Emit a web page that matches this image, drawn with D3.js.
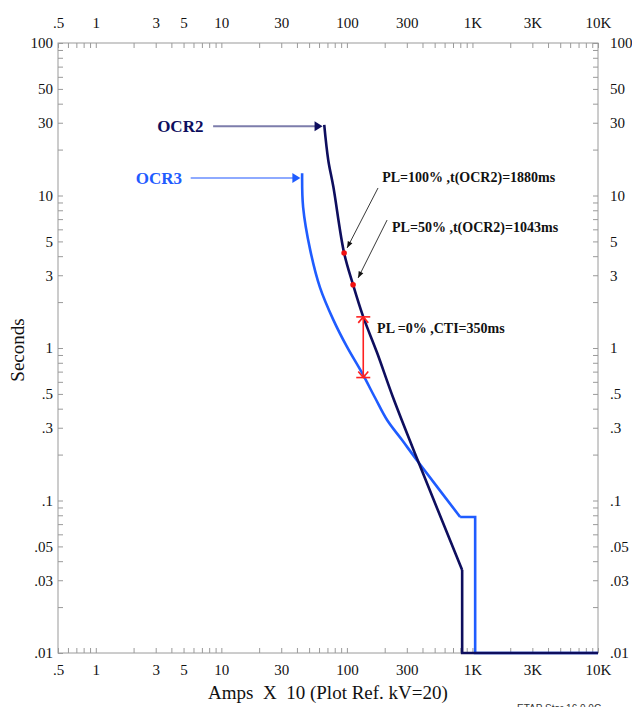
<!DOCTYPE html>
<html>
<head>
<meta charset="utf-8">
<script src="https://cdn.jsdelivr.net/npm/d3@7"></script>
<style>
  body { margin: 0; background: #fff; }
  svg { display: block; }
  text { font-family: "Liberation Serif", "Times New Roman", serif; }
</style>
</head>
<body>
<div class="chart"></div>
<script>
// Tick labels
const xTickVals = [0.5, 1, 3, 5, 10, 30, 100, 300, 1000, 3000, 10000];
const xTickLabels = [".5", "1", "3", "5", "10", "30", "100", "300", "1K", "3K", "10K"];
const yTickVals = [100, 50, 30, 10, 5, 3, 1, 0.5, 0.3, 0.1, 0.05, 0.03, 0.01];
const yTickLabels = ["100", "50", "30", "10", "5", "3", "1", ".5", ".3", ".1", ".05", ".03", ".01"];

// OCR2 curve (amps x10, seconds)
const ocr2Amps = [66, 71, 78, 95, 112, 135, 174, 234, 370, 828];
const ocr2Secs = [29, 17.1, 11.4, 4.2, 2.6, 1.6, 0.93, 0.47, 0.18, 0.035];
const ocr2TailAmps = [828, 828, 10000];
const ocr2TailSecs = [0.035, 0.01, 0.01];

// OCR3 curve
const ocr3Amps = [44, 44.8, 51, 61, 78, 100, 132, 168, 209, 275, 370, 798];
const ocr3Secs = [14, 8.4, 4.4, 2.5, 1.53, 1.02, 0.686, 0.47, 0.337, 0.249, 0.179, 0.078];
const ocr3TailAmps = [798, 1051, 1051, 10000];
const ocr3TailSecs = [0.078, 0.078, 0.01, 0.01];

// Operating points (PL=100%, PL=50%)
const dotAmps = [95, 112];
const dotSecs = [4.2, 2.6];

// CTI interval
const ctiAmps = 135;
const ctiSecs = [1.6, 0.64];

const W = 632, H = 707;
const Margin = {top: 43, right: 34, bottom: 54, left: 58};

const svg = d3.select(".chart").append("svg")
  .attr("width", W).attr("height", H);

const x = d3.scaleLog().domain([0.5, 10000]).range([Margin.left, W - Margin.right]);
const y = d3.scaleLog().domain([0.01, 100]).range([H - Margin.bottom, Margin.top]);

const frameColor = "#9a9a9a";
const navy = "#0e0e5e";
const blue = "#1f5cff";

// frame
svg.append("rect")
  .attr("x", x.range()[0]).attr("y", y.range()[1])
  .attr("width", x.range()[1] - x.range()[0])
  .attr("height", y.range()[0] - y.range()[1])
  .attr("fill", "none").attr("stroke", frameColor).attr("stroke-width", 1);

// minor ticks (inside the frame)
const xMinor = x.ticks().filter(d => d >= 0.5 && d <= 10000);
const yMinor = y.ticks();

function styleTicks(g) {
  g.select(".domain").remove();
  g.selectAll("line").attr("stroke", frameColor);
  g.selectAll("text").remove();
}
svg.append("g").attr("transform", `translate(0,${y.range()[1]})`)
  .call(d3.axisBottom(x).tickValues(xMinor).tickSize(5)).call(styleTicks);
svg.append("g").attr("transform", `translate(0,${y.range()[0]})`)
  .call(d3.axisTop(x).tickValues(xMinor).tickSize(5)).call(styleTicks);
svg.append("g").attr("transform", `translate(${x.range()[0]},0)`)
  .call(d3.axisRight(y).tickValues(yMinor).tickSize(5)).call(styleTicks);
svg.append("g").attr("transform", `translate(${x.range()[1]},0)`)
  .call(d3.axisLeft(y).tickValues(yMinor).tickSize(5)).call(styleTicks);

// tick labels
function styleLabels(g) {
  g.select(".domain").remove();
  g.selectAll("line").remove();
  g.selectAll("text").attr("font-size", 15).attr("fill", "#111")
    .style("font-family", '"Liberation Serif", serif');
}
const xFmt = d => xTickLabels[xTickVals.indexOf(d)];
const yFmt = d => yTickLabels[yTickVals.indexOf(d)];
svg.append("g").attr("transform", `translate(0,${y.range()[1] - 15})`)
  .call(d3.axisTop(x).tickValues(xTickVals).tickFormat(xFmt).tickSize(0).tickPadding(0))
  .call(styleLabels);
svg.append("g").attr("transform", `translate(0,${y.range()[0] + 11})`)
  .call(d3.axisBottom(x).tickValues(xTickVals).tickFormat(xFmt).tickSize(0).tickPadding(0))
  .call(styleLabels);
svg.append("g").attr("transform", `translate(${x.range()[0] - 5},0)`)
  .call(d3.axisLeft(y).tickValues(yTickVals).tickFormat(yFmt).tickSize(0).tickPadding(0))
  .call(styleLabels);
svg.append("g").attr("transform", `translate(${x.range()[1] + 12},0)`)
  .call(d3.axisRight(y).tickValues(yTickVals).tickFormat(yFmt).tickSize(0).tickPadding(0))
  .call(styleLabels);

// axis titles
svg.append("text")
  .attr("x", 328).attr("y", 699)
  .attr("text-anchor", "middle").attr("font-size", 19).attr("fill", "#111")
  .style("white-space", "pre")
  .text("Amps  X  10 (Plot Ref. kV=20)");
svg.append("text")
  .attr("transform", "translate(24,350) rotate(-90)")
  .attr("text-anchor", "middle").attr("font-size", 19).attr("fill", "#111")
  .text("Seconds");
// program stamp, cut by the bottom edge as in the original export
svg.append("text")
  .attr("x", 517).attr("y", 712)
  .attr("font-size", 10).attr("fill", "#333")
  .style("font-family", "'Liberation Sans', sans-serif")
  .text("ETAP Star 16.0.0C");

// curves
const smooth = d3.line().x(d => x(d[0])).y(d => y(d[1])).curve(d3.curveCatmullRom.alpha(0.5));
const straight = d3.line().x(d => x(d[0])).y(d => y(d[1]));

function drawCurve(amps, secs, tailA, tailS, color) {
  const pts = amps.map((a, i) => [a, secs[i]]);
  const tail = tailA.map((a, i) => [a, tailS[i]]);
  svg.append("path").attr("d", smooth(pts))
    .attr("fill", "none").attr("stroke", color).attr("stroke-width", 2.6);
  svg.append("path").attr("d", straight(tail))
    .attr("fill", "none").attr("stroke", color).attr("stroke-width", 2.6)
    .attr("stroke-linejoin", "miter");
}
drawCurve(ocr3Amps, ocr3Secs, ocr3TailAmps, ocr3TailSecs, blue);
drawCurve(ocr2Amps, ocr2Secs, ocr2TailAmps, ocr2TailSecs, navy);

// curve labels with arrows
function curveLabel(label, color, lineColor, textAmps, fromAmps, toAmps, secs) {
  const yy = y(secs);
  svg.append("text").attr("x", x(textAmps)).attr("y", yy).attr("dy", "0.35em")
    .attr("text-anchor", "end").attr("font-size", 17).attr("font-weight", "bold")
    .attr("fill", color).text(label);
  svg.append("line")
    .attr("x1", x(fromAmps)).attr("x2", x(toAmps) - 6)
    .attr("y1", yy).attr("y2", yy)
    .attr("stroke", lineColor).attr("stroke-width", 2);
  const tx = x(toAmps);
  svg.append("path")
    .attr("d", `M${tx},${yy} L${tx - 8},${yy - 5} L${tx - 8},${yy + 5} Z`)
    .attr("fill", color);
}
curveLabel("OCR2", navy, "#7d7dab", 7.2, 8.6, 64, 28.5);
curveLabel("OCR3", blue, "#8eaaff", 4.86, 5.7, 42.6, 13.0);

// annotation arrows (thin black)
const annFrom = [[177, 11.2], [209, 6.9]];
const annTo = [[100.4, 4.53], [122.8, 2.88]];
annFrom.forEach((f, i) => {
  const x1 = x(f[0]), y1 = y(f[1]), x2 = x(annTo[i][0]), y2 = y(annTo[i][1]);
  const ang = Math.atan2(y2 - y1, x2 - x1);
  svg.append("line").attr("x1", x1).attr("y1", y1).attr("x2", x2).attr("y2", y2)
    .attr("stroke", "#222").attr("stroke-width", 0.9);
  const a1 = ang + Math.PI * 0.88, a2 = ang - Math.PI * 0.88;
  svg.append("path")
    .attr("d", `M${x2},${y2} L${x2 + 7 * Math.cos(a1)},${y2 + 7 * Math.sin(a1)} L${x2 + 7 * Math.cos(a2)},${y2 + 7 * Math.sin(a2)} Z`)
    .attr("fill", "#111");
});

// red operating points
svg.selectAll(".dot").data(dotAmps).enter().append("circle")
  .attr("cx", d => x(d)).attr("cy", (d, i) => y(dotSecs[i]))
  .attr("r", 2.8).attr("fill", "#f01010");

// CTI marker
const cx = x(ctiAmps), cy1 = y(ctiSecs[0]), cy2 = y(ctiSecs[1]);
const red = "#ff2020";
svg.append("line").attr("x1", cx).attr("x2", cx).attr("y1", cy1).attr("y2", cy2)
  .attr("stroke", red).attr("stroke-width", 1.6);
[[cy1, 1], [cy2, -1]].forEach(([yy, s]) => {
  svg.append("line").attr("x1", cx - 7).attr("x2", cx + 7).attr("y1", yy).attr("y2", yy)
    .attr("stroke", red).attr("stroke-width", 1.6);
  svg.append("path")
    .attr("d", `M${cx - 5},${yy + 6 * s} L${cx},${yy} L${cx + 5},${yy + 6 * s}`)
    .attr("fill", "none").attr("stroke", red).attr("stroke-width", 1.6);
});

// annotation texts
const annTexts = ["PL=100% ,t(OCR2)=1880ms", "PL=50% ,t(OCR2)=1043ms", "PL =0% ,CTI=350ms"];
const annTextAmps = [191, 229, 174];
const annTextSecs = [12.3, 5.76, 1.25];
svg.selectAll(".ann").data(annTexts).enter().append("text")
  .attr("x", (d, i) => x(annTextAmps[i])).attr("y", (d, i) => y(annTextSecs[i]))
  .attr("font-size", 14).attr("font-weight", "bold").attr("fill", "#111")
  .style("white-space", "pre")
  .text(d => d);
</script>
</body>
</html>
